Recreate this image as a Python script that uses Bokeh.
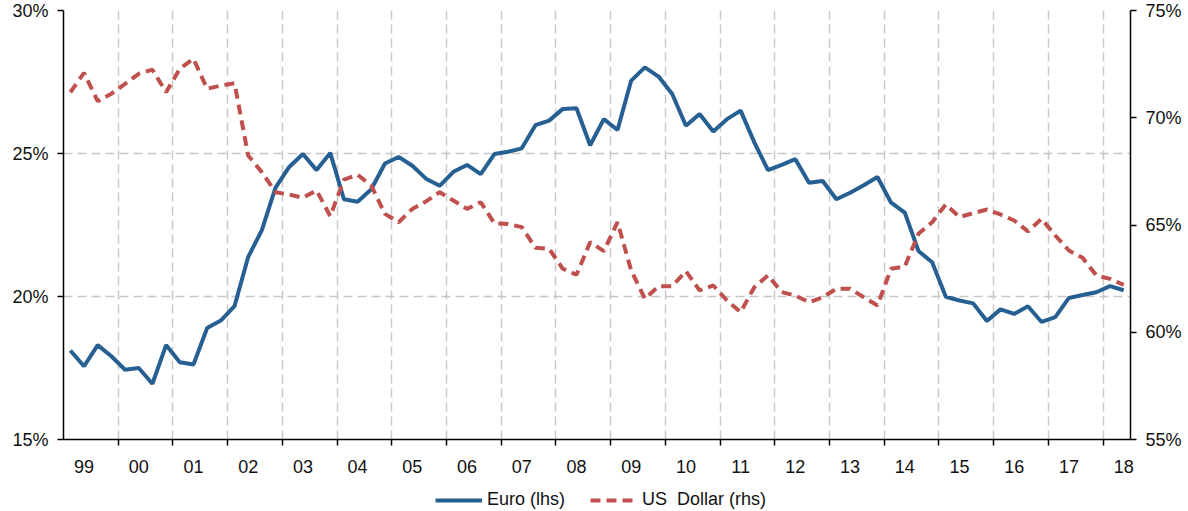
from bokeh.plotting import figure
from bokeh.layouts import column
from bokeh.models import (Range1d, LinearAxis, FixedTicker, PrintfTickFormatter,
                          Legend, LegendItem, ColumnDataSource, Grid)
from bokeh.embed import file_html
from bokeh.resources import INLINE

# ---------------- data ----------------
years = list(range(1999, 2019))
year_labels = ["99", "00", "01", "02", "03", "04", "05", "06", "07", "08",
               "09", "10", "11", "12", "13", "14", "15", "16", "17", "18"]
n_quarters = 78  # 1999Q1 .. 2018Q2

euro = [18.11, 17.56, 18.30, 17.91, 17.44, 17.50, 16.95, 18.30,
        17.70, 17.62, 18.90, 19.16, 19.66, 21.38, 22.32, 23.81,
        24.53, 24.98, 24.42, 25.02, 23.40, 23.31, 23.75, 24.65,
        24.88, 24.57, 24.12, 23.87, 24.36, 24.60, 24.28, 24.98,
        25.06, 25.18, 25.99, 26.15, 26.56, 26.58, 25.29, 26.20,
        25.82, 27.55, 28.01, 27.69, 27.08, 25.97, 26.38, 25.77,
        26.20, 26.50, 25.39, 24.42, 24.60, 24.80, 23.98, 24.04,
        23.40, 23.63, 23.89, 24.18, 23.28, 22.93, 21.59, 21.20,
        19.99, 19.86, 19.76, 19.14, 19.55, 19.39, 19.66, 19.11,
        19.28, 19.95, 20.05, 20.15, 20.36, 20.22]

usd = [71.19, 72.09, 70.77, 71.12, 71.58, 72.05, 72.24, 71.19,
       72.28, 72.75, 71.35, 71.50, 71.61, 68.24, 67.46, 66.53,
       66.42, 66.27, 66.61, 65.41, 67.11, 67.34, 66.84, 65.52,
       65.13, 65.75, 66.10, 66.53, 66.14, 65.75, 66.06, 65.08,
       65.05, 64.90, 63.94, 63.89, 62.96, 62.68, 64.20, 63.78,
       65.13, 62.88, 61.56, 62.15, 62.15, 62.85, 61.95, 62.18,
       61.48, 60.94, 62.10, 62.65, 61.87, 61.71, 61.40, 61.63,
       62.03, 62.03, 61.63, 61.25, 62.96, 63.07, 64.59, 65.13,
       65.96, 65.37, 65.55, 65.72, 65.49, 65.21, 64.70, 65.29,
       64.51, 63.81, 63.47, 62.65, 62.49, 62.21]

series_names = ["Euro (lhs)", "US  Dollar (rhs)"]
left_ticks = [15, 20, 25, 30]
right_ticks = [55, 60, 65, 70, 75]

# quarter mid-points as fractional years
x = [1999 + (k + 0.5) / 4 for k in range(n_quarters)]
src = ColumnDataSource(dict(x=x, euro=euro, usd=usd))

FONT = "Liberation Sans"
BLUE = "#266092"
RED = "#C0504D"
DASH = "10 6"

p = figure(width=1188, height=488, output_backend="svg", toolbar_location=None,
           x_range=Range1d(1999, 2018.5), y_range=Range1d(15, 30),
           min_border_left=63, min_border_right=58, min_border_top=10,
           min_border_bottom=49, x_axis_type=None, y_axis_type=None)
p.outline_line_color = None
p.background_fill_color = "white"
p.border_fill_color = "white"

p.extra_y_ranges = {"usd": Range1d(55, 75)}

yl = LinearAxis(ticker=FixedTicker(ticks=left_ticks),
                formatter=PrintfTickFormatter(format="%d%%"))
yr = LinearAxis(y_range_name="usd", ticker=FixedTicker(ticks=right_ticks),
                formatter=PrintfTickFormatter(format="%d%%"))
label_pos = [yv + 0.375 for yv in years]
xa = LinearAxis(ticker=FixedTicker(ticks=label_pos, minor_ticks=years[1:]),
                major_label_overrides={lp: lab for lp, lab in zip(label_pos, year_labels)})

for ax in (yl, yr, xa):
    ax.axis_line_color = "black"
    ax.axis_line_width = 1.5
    ax.major_tick_line_color = "black"
    ax.major_tick_line_width = 1.5
    ax.major_tick_in = 0
    ax.major_tick_out = 6
    ax.minor_tick_line_color = None
    ax.major_label_text_font = FONT
    ax.major_label_text_font_size = "18px"
    ax.major_label_text_color = "#111111"

yl.major_label_standoff = 9
yr.major_label_standoff = 9
xa.major_tick_out = 0
xa.major_tick_line_color = None
xa.minor_tick_line_color = "black"
xa.minor_tick_line_width = 1.5
xa.minor_tick_in = 0
xa.minor_tick_out = 6
xa.major_label_standoff = 14

p.add_layout(yl, "left")
p.add_layout(yr, "right")
p.add_layout(xa, "below")

gy = Grid(dimension=1, ticker=FixedTicker(ticks=left_ticks[1:]),
          grid_line_color="#C8C8C8", grid_line_width=1.5, grid_line_dash="9 5")
gx = Grid(dimension=0, ticker=FixedTicker(ticks=years[1:]),
          grid_line_color="#C8C8C8", grid_line_width=1.5, grid_line_dash="9 5")
p.add_layout(gy)
p.add_layout(gx)

p.line("x", "euro", source=src, line_color=BLUE, line_width=4)
p.line("x", "usd", source=src, y_range_name="usd", line_color=RED,
       line_width=4, line_dash=DASH)

# ---------------- legend strip ----------------
# same series, but outside this strip's visible ranges: only the legend shows
lg = figure(width=1188, height=23, output_backend="svg", toolbar_location=None,
            x_range=Range1d(0, 1), y_range=Range1d(0, 1),
            min_border=0, x_axis_type=None, y_axis_type=None)
lg.outline_line_color = None
lg.xgrid.visible = False
lg.ygrid.visible = False
le = lg.line("x", "euro", source=src, line_color=BLUE, line_width=4)
lu = lg.line("x", "usd", source=src, line_color=RED, line_width=4, line_dash=DASH)
legend = Legend(items=[LegendItem(label=series_names[0], renderers=[le]),
                       LegendItem(label=series_names[1], renderers=[lu])],
                orientation="horizontal", location=(372, 1),
                glyph_width=47, glyph_height=20, label_height=20,
                label_standoff=5, spacing=25, padding=0, margin=0,
                label_text_font=FONT, label_text_font_size="18px",
                label_text_color="#111111",
                border_line_color=None, background_fill_alpha=0)
lg.add_layout(legend, "center")

open("out.html", "w").write(file_html(column(p, lg, spacing=0), INLINE))
